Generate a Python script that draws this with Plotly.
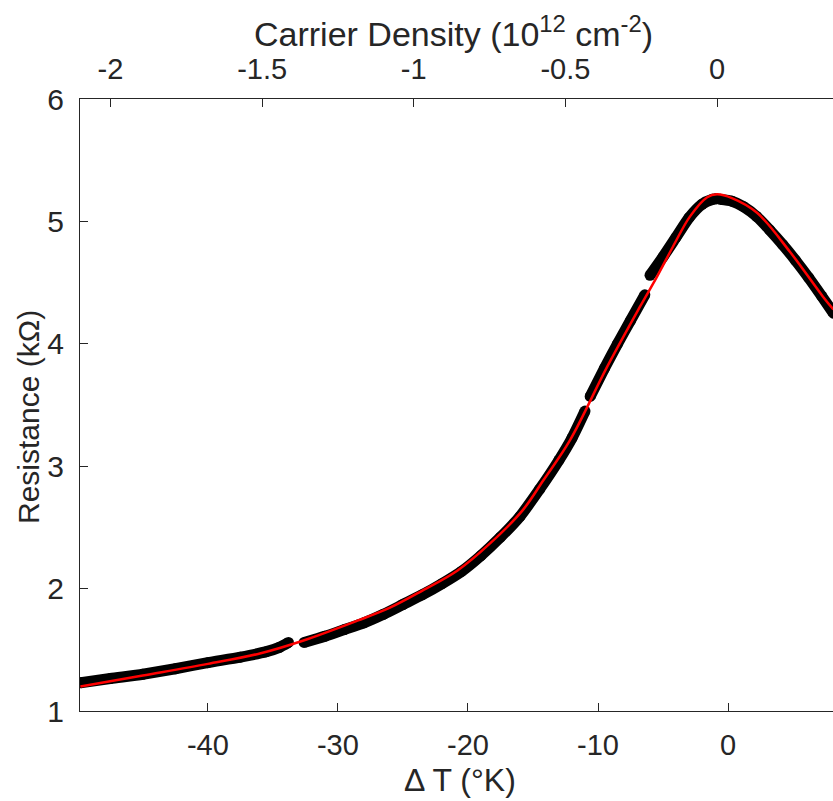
import plotly.graph_objects as go

# Measured data (black), split into segments where the trace shows gaps
dT_a = [-49.8, -47.5, -45.0, -42.5, -40.0, -37.5, -35.5, -34.5, -33.8]
R_a = [1.23, 1.265, 1.30, 1.345, 1.395, 1.44, 1.485, 1.52, 1.56]

dT_b = [-32.6, -31.0, -29.5, -28.0, -26.5, -25.0, -23.5, -22.0, -20.5, -19.0,
        -17.5, -16.0, -14.5, -13.0, -12.0, -11.0]
R_b = [1.56, 1.61, 1.665, 1.72, 1.79, 1.87, 1.95, 2.04, 2.14, 2.27,
       2.42, 2.59, 2.81, 3.05, 3.23, 3.45]

dT_c = [-10.6, -9.5, -8.5, -7.5, -6.4]
R_c = [3.57, 3.80, 4.00, 4.19, 4.40]

dT_d = [-6.0, -5.0, -4.0, -3.0, -2.0, -1.2, -0.9]
R_d = [4.56, 4.71, 4.87, 5.03, 5.14, 5.18, 5.185]

dT_e = [-0.6, 0.3, 1.2, 2.2, 3.2, 4.2, 5.2, 6.2, 7.2, 8.1]
R_e = [5.18, 5.165, 5.12, 5.04, 4.93, 4.81, 4.68, 4.54, 4.39, 4.25]

# Fit (red)
dT_fit = [-49.8, -45.0, -40.0, -36.0, -32.7, -28.5, -26.0, -23.5, -20.8, -18.3,
          -15.8, -14.2, -12.15, -9.3, -6.77, -5.46, -4.23, -2.92, -1.6, -0.85,
          0.3, 2.23, 4.77, 7.3, 8.1]
R_fit = [1.20, 1.29, 1.385, 1.47, 1.574, 1.738, 1.844, 1.984, 2.148, 2.369,
         2.639, 2.885, 3.213, 3.811, 4.303, 4.549, 4.795, 5.041, 5.197, 5.221,
         5.19, 5.07, 4.75, 4.385, 4.28]

x_ticks = [-40, -30, -20, -10, 0]
x_tick_labels = ["-40", "-30", "-20", "-10", "0"]
y_ticks = [1, 2, 3, 4, 5, 6]
n_ticks = [-2, -1.5, -1, -0.5, 0]
n_tick_labels = ["-2", "-1.5", "-1", "-0.5", "0"]

AX = "#262626"
FONT = "Liberation Sans, Arial, sans-serif"

fig = go.Figure()
for xs, ys in [(dT_a, R_a), (dT_b, R_b), (dT_c, R_c), (dT_d, R_d), (dT_e, R_e)]:
    fig.add_trace(go.Scatter(x=xs, y=ys, mode="lines+markers",
                             line=dict(color="black", width=11, shape="spline",
                                       smoothing=0.6),
                             marker=dict(color="black", size=11),
                             showlegend=False, hoverinfo="skip"))
fig.add_trace(go.Scatter(x=dT_fit, y=R_fit, mode="lines",
                         line=dict(color="#ff0000", width=2.5, shape="spline"),
                         showlegend=False))
# invisible trace so the top axis is drawn
fig.add_trace(go.Scatter(x=[n_ticks[0]], y=[None], xaxis="x2", mode="markers",
                         showlegend=False, hoverinfo="skip"))

fig.update_layout(
    width=833, height=801,
    margin=dict(l=80, r=0, t=99, b=90),
    paper_bgcolor="white", plot_bgcolor="white",
    font=dict(family=FONT, color=AX),
    xaxis=dict(range=[-49.83, 8.07], tickvals=x_ticks, ticktext=x_tick_labels,
               ticks="inside", ticklen=8,
               tickcolor=AX, showline=True, linecolor=AX, linewidth=1,
               showgrid=False, zeroline=False, tickfont=dict(size=29, color=AX),
               ticklabelstandoff=8),
    xaxis2=dict(range=[-2.1005, 0.3825], overlaying="x", side="top", anchor="y",
                tickvals=n_ticks, ticktext=n_tick_labels, ticks="inside", ticklen=8,
                tickcolor=AX, showline=True, linecolor=AX, linewidth=1,
                showgrid=False, zeroline=False, tickfont=dict(size=29, color=AX),
                ticklabelstandoff=7),
    yaxis=dict(range=[1, 6], tickvals=y_ticks, ticks="inside", ticklen=8,
               tickcolor=AX, showline=True, linecolor=AX, linewidth=1,
               showgrid=False, zeroline=False, tickfont=dict(size=30, color=AX),
               ticklabelstandoff=9),
    annotations=[
        dict(text="Resistance (kΩ)", xref="paper", yref="paper", x=0, y=0.5,
             xshift=-52, yshift=-12, xanchor="center", yanchor="middle", textangle=-90,
             showarrow=False, font=dict(size=30, color=AX)),
        dict(text="Δ T (°K)", xref="paper", yref="paper", x=0.505, y=0,
             yshift=-69, xanchor="center", yanchor="middle",
             showarrow=False, font=dict(size=32, color=AX)),
        dict(text="Carrier Density (10<sup>12</sup> cm<sup>-2</sup>)", xref="paper",
             yref="paper", x=0.4955, y=1, yshift=68, xanchor="center", yanchor="middle",
             showarrow=False, font=dict(size=34, color=AX)),
    ],
)

fig.write_html("out.html")
